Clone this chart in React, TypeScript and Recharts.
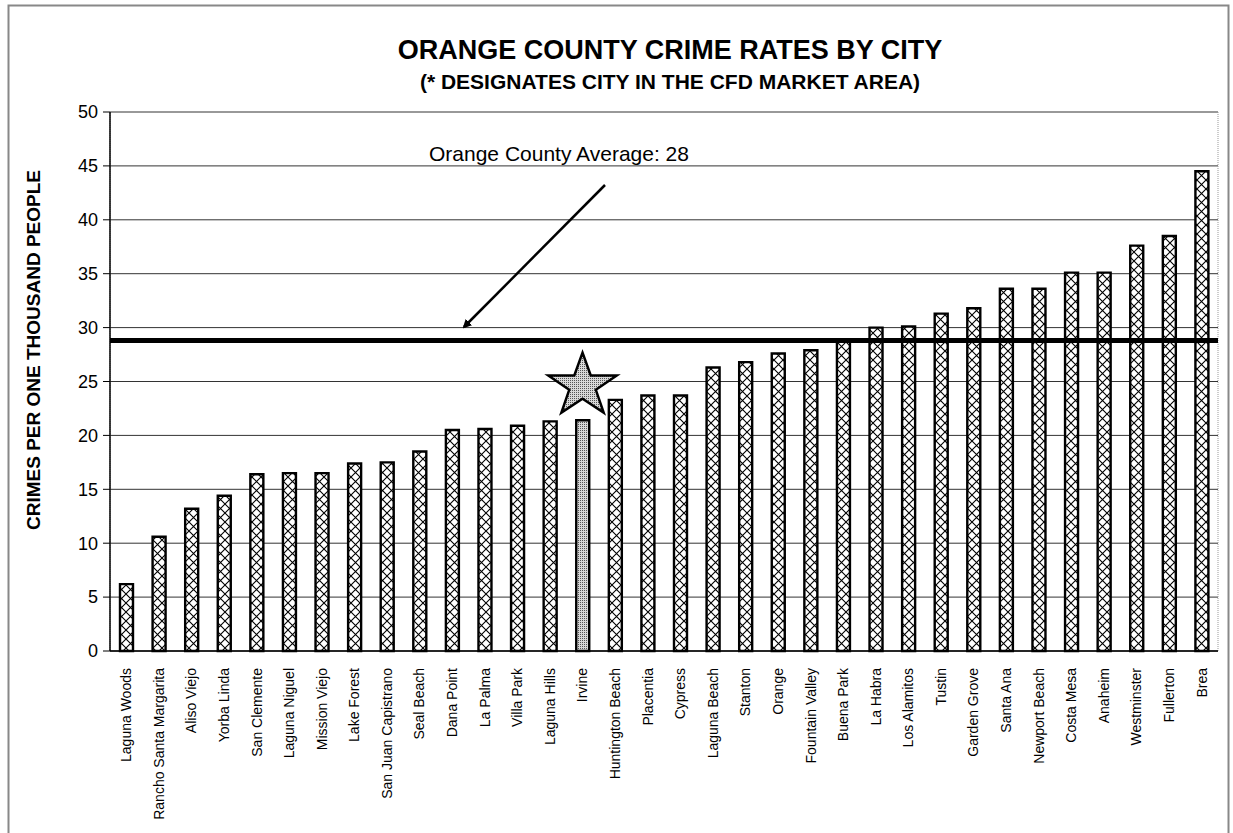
import {
  BarChart,
  Bar,
  Cell,
  XAxis,
  YAxis,
  CartesianGrid,
  ReferenceLine,
  ReferenceArea,
  ReferenceDot,
} from 'recharts';

const cities = [
  'Laguna Woods', 'Rancho Santa Margarita', 'Aliso Viejo', 'Yorba Linda', 'San Clemente',
  'Laguna Niguel', 'Mission Viejo', 'Lake Forest', 'San Juan Capistrano', 'Seal Beach',
  'Dana Point', 'La Palma', 'Villa Park', 'Laguna Hills', 'Irvine',
  'Huntington Beach', 'Placentia', 'Cypress', 'Laguna Beach', 'Stanton',
  'Orange', 'Fountain Valley', 'Buena Park', 'La Habra', 'Los Alamitos',
  'Tustin', 'Garden Grove', 'Santa Ana', 'Newport Beach', 'Costa Mesa',
  'Anaheim', 'Westminster', 'Fullerton', 'Brea',
];

const crimeRates = [
  6.2, 10.6, 13.2, 14.4, 16.4,
  16.5, 16.5, 17.4, 17.5, 18.5,
  20.5, 20.6, 20.9, 21.3, 21.4,
  23.3, 23.7, 23.7, 26.3, 26.8,
  27.6, 27.9, 28.8, 30.0, 30.1,
  31.3, 31.8, 33.6, 33.6, 35.1,
  35.1, 37.6, 38.5, 44.5,
];

const yTicks = [0, 5, 10, 15, 20, 25, 30, 35, 40, 45, 50];
const countyAverage = 28.8;
const highlightCity = 'Irvine';

const data = cities.map((city, i) => ({ city, rate: crimeRates[i] }));

const FONT = '"Liberation Sans", Arial, sans-serif';

function CityTick(props: any) {
  const { x, y, payload } = props;
  return (
    <text
      x={x}
      y={y + 9}
      dy="0.35em"
      transform={`rotate(-90, ${x}, ${y + 9})`}
      textAnchor="end"
      fontFamily={FONT}
      fontSize={14}
      fill="#000"
    >
      {payload.value}
    </text>
  );
}

// five-point star marking the CFD city
function Star(props: any) {
  const { cx, cy } = props;
  const R = 36;
  const r = 14;
  const pts: string[] = [];
  for (let i = 0; i < 10; i++) {
    const rad = i % 2 === 0 ? R : r;
    const a = -Math.PI / 2 + (i * Math.PI) / 5;
    pts.push(`${cx + rad * Math.cos(a)},${cy + rad * Math.sin(a) * 0.92}`);
  }
  return <polygon points={pts.join(' ')} fill="url(#dots)" stroke="#000" strokeWidth={2.5} />;
}

export default function App() {
  return (
    <div style={{ position: 'relative', width: 1233, height: 833, background: '#fff', fontFamily: FONT }}>
      <style>{'body{margin:0}'}</style>
      <BarChart
        width={1233}
        height={833}
        data={data}
        margin={{ top: 112, right: 15, left: 0, bottom: 0 }}
        barCategoryGap="30%"
      >
        <defs>
          <pattern id="cross" patternUnits="userSpaceOnUse" width="9" height="9">
            <rect width="9" height="9" fill="#fff" />
            <path d="M0,0 L9,9 M9,0 L0,9" stroke="#000" strokeWidth="1.1" />
          </pattern>
          <pattern id="dots" patternUnits="userSpaceOnUse" width="2" height="2">
            <rect width="2" height="2" fill="#d8d8d8" />
            <rect width="1" height="1" fill="#555" />
          </pattern>
        </defs>
        <CartesianGrid vertical={false} stroke="#333" strokeWidth={1} />
        <ReferenceArea y1={0} y2={50} fill="none" stroke="#999" strokeDasharray="1 1" ifOverflow="visible" />
        <XAxis
          dataKey="city"
          interval={0}
          height={182}
          tick={<CityTick />}
          tickLine={false}
          axisLine={{ stroke: '#000', strokeWidth: 1.5 }}
        />
        <YAxis
          width={110}
          domain={[0, 50]}
          ticks={yTicks}
          tickSize={7}
          tickMargin={5}
          tick={{ fill: '#000', fontSize: 18, fontFamily: FONT }}
          tickLine={{ stroke: '#000' }}
          axisLine={{ stroke: '#000', strokeWidth: 1.5 }}
        />
        <Bar dataKey="rate" barSize={13} stroke="#000" strokeWidth={2.4} isAnimationActive={false}>
          {data.map((d) => (
            <Cell key={d.city} fill={d.city === highlightCity ? 'url(#dots)' : 'url(#cross)'} />
          ))}
        </Bar>
        <ReferenceLine y={countyAverage} stroke="#000" strokeWidth={5} />
        <ReferenceDot x={highlightCity} y={24.6} r={36} shape={<Star />} ifOverflow="visible" />
      </BarChart>
      <svg
        width={1233}
        height={833}
        style={{ position: 'absolute', left: 0, top: 0, pointerEvents: 'none' }}
      >
        <defs>
          <marker id="arrowhead" markerWidth="9" markerHeight="9" refX="7" refY="4.5" orient="auto" markerUnits="userSpaceOnUse">
            <path d="M0,0 L9,4.5 L0,9 z" fill="#000" />
          </marker>
        </defs>
        <rect x={8.5} y={5.5} width={1220} height={840} fill="none" stroke="#888" strokeWidth={2} />
        <text x={670} y={59} textAnchor="middle" fontFamily={FONT} fontWeight="bold" fontSize={27} fill="#000">
          ORANGE COUNTY CRIME RATES BY CITY
        </text>
        <text x={670} y={89} textAnchor="middle" fontFamily={FONT} fontWeight="bold" fontSize={21} fill="#000">
          (* DESIGNATES CITY IN THE CFD MARKET AREA)
        </text>
        <text
          x={33}
          y={350}
          transform="rotate(-90, 33, 350)"
          textAnchor="middle"
          dy="0.35em"
          fontFamily={FONT}
          fontWeight="bold"
          fontSize={19}
          fill="#000"
        >
          CRIMES PER ONE THOUSAND PEOPLE
        </text>
        <text x={429} y={161} fontFamily={FONT} fontSize={21} fill="#000">
          Orange County Average: 28
        </text>
        <line x1={605} y1={185} x2={464} y2={327} stroke="#000" strokeWidth={2.5} markerEnd="url(#arrowhead)" />
      </svg>
    </div>
  );
}
